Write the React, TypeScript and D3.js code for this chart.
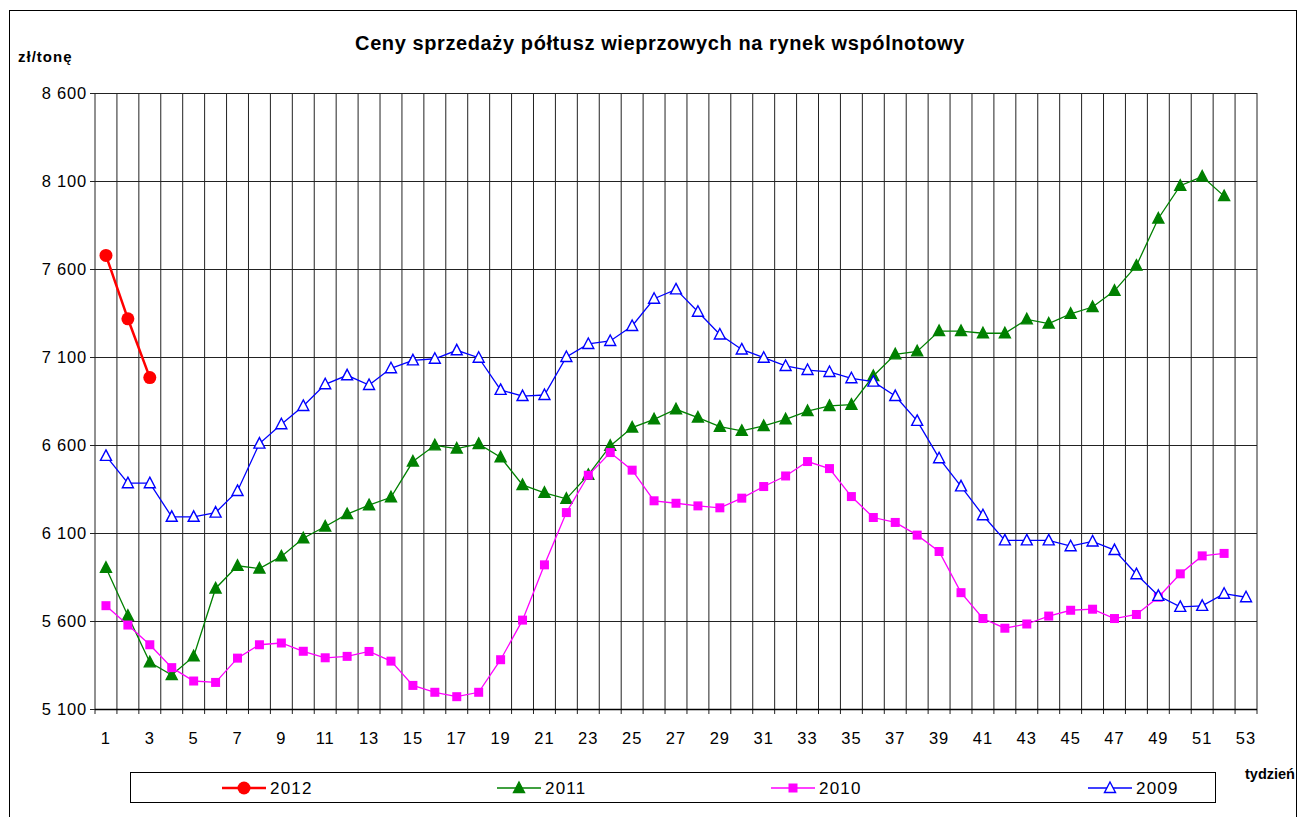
import * as d3 from "d3";

const weeks = [
  1, 2, 3, 4, 5, 6, 7, 8, 9, 10, 11, 12, 13, 14, 15, 16, 17, 18, 19, 20, 21, 22, 23, 24, 25, 26, 27,
  28, 29, 30, 31, 32, 33, 34, 35, 36, 37, 38, 39, 40, 41, 42, 43, 44, 45, 46, 47, 48, 49, 50, 51, 52, 53,
];
const yTicks = [5100, 5600, 6100, 6600, 7100, 7600, 8100, 8600];

const s2012 = [7677, 7317, 6983];
const s2011 = [
  5902, 5630, 5365, 5293, 5399, 5785, 5914, 5898, 5967, 6070, 6137, 6207, 6258, 6303, 6506, 6598, 6580,
  6606, 6530, 6373, 6328, 6294, 6430, 6595, 6699, 6746, 6803, 6756, 6704, 6680, 6708, 6746, 6793, 6822,
  6829, 6992, 7115, 7132, 7247, 7247, 7235, 7235, 7314, 7290, 7345, 7384, 7476, 7619, 7887, 8073, 8125,
  8014,
];
const s2010 = [
  5687, 5577, 5465, 5335, 5259, 5251, 5389, 5465, 5475, 5428, 5391, 5399, 5427, 5372, 5234, 5195, 5170,
  5195, 5380, 5605, 5919, 6216, 6428, 6557, 6457, 6283, 6269, 6254, 6243, 6298, 6364, 6424, 6506, 6466,
  6307, 6188, 6160, 6088, 5995, 5761, 5614, 5559, 5583, 5628, 5661, 5667, 5614, 5637, 5735, 5868, 5970,
  5984,
];
const s2009 = [
  6538, 6383, 6383, 6192, 6192, 6216, 6339, 6608, 6718, 6822, 6945, 6996, 6941, 7036, 7081, 7090, 7138,
  7096, 6913, 6878, 6884, 7100, 7174, 7191, 7276, 7431, 7484, 7357, 7228, 7143, 7096, 7049, 7026, 7015,
  6979, 6960, 6878, 6737, 6525, 6365, 6201, 6058, 6058, 6058, 6025, 6052, 6003, 5866, 5743, 5680, 5686,
  5755, 5735,
];

const series = [
  { name: "2012", values: s2012, color: "#ff0000", width: 2.5, marker: "circle", fill: "#ff0000", legendX: 222 },
  { name: "2011", values: s2011, color: "#008000", width: 1.3, marker: "triangle", fill: "#008000", legendX: 497 },
  { name: "2010", values: s2010, color: "#ff00ff", width: 1.3, marker: "square", fill: "#ff00ff", legendX: 771 },
  { name: "2009", values: s2009, color: "#0000ff", width: 1.3, marker: "triangle", fill: "#ffffff", legendX: 1088 },
];

const font = "'Liberation Sans', Arial, sans-serif";

function Marker({ kind, x, y, color, fill }: { kind: string; x: number; y: number; color: string; fill: string }) {
  if (kind === "circle") return <circle cx={x} cy={y} r={6.5} fill={fill} />;
  if (kind === "square") return <rect x={x - 4.5} y={y - 4.5} width={9} height={9} fill={fill} />;
  // triangle
  const p = `${x},${y - 6} ${x + 5.5},${y + 4.5} ${x - 5.5},${y + 4.5}`;
  return <polygon points={p} fill={fill} stroke={color} strokeWidth={1.4} />;
}

export default function App() {
  const W = 1301;
  const H = 817;
  const left = 95;
  const right = 1257;
  const top = 93;
  const bottom = 709;

  const x = d3.scaleBand<number>().domain(weeks).range([left, right]);
  const y = d3.scaleLinear().domain([5100, 8600]).range([bottom, top]);
  const cx = (w: number) => (x(w) as number) + x.bandwidth() / 2;

  const line = d3
    .line<number>()
    .x((_, i) => cx(weeks[i]))
    .y((v) => y(v));

  const bounds = weeks.map((w) => x(w) as number).concat([right]);

  return (
    <div style={{ position: "absolute", left: 0, top: 0 }}>
      <svg width={W} height={H} style={{ display: "block", fontFamily: font }}>
        <rect x={0} y={0} width={W} height={H} fill="#fff" />
        <rect x={9.5} y={10.5} width={1287} height={830} fill="none" stroke="#000" strokeWidth={1} />

        <text x={660} y={50} textAnchor="middle" fontSize={20} fontWeight="bold" letterSpacing={0.6}>
          Ceny sprzedaży półtusz wieprzowych na rynek wspólnotowy
        </text>
        <text x={18} y={62} fontSize={15} fontWeight="bold" letterSpacing={1}>
          zł/tonę
        </text>

        {/* grid */}
        {bounds.map((b, i) => (
          <line key={"v" + i} x1={b} x2={b} y1={top} y2={bottom + 5} stroke="#222" strokeWidth={1} />
        ))}
        {yTicks.map((t) => (
          <line key={"h" + t} x1={left - 5} x2={right} y1={Math.round(y(t)) + 0.5} y2={Math.round(y(t)) + 0.5} stroke="#222" strokeWidth={1} />
        ))}
        <line x1={left} x2={right} y1={bottom + 0.5} y2={bottom + 0.5} stroke="#000" strokeWidth={1.5} />

        {/* y labels */}
        {yTicks.map((t) => (
          <text key={"yl" + t} x={87} y={y(t) + 6} textAnchor="end" fontSize={16.5} letterSpacing={0.8}>
            {d3.format(",")(t).replace(",", " ")}
          </text>
        ))}
        {/* x labels */}
        {weeks
          .filter((w) => w % 2 === 1)
          .map((w) => (
            <text key={"xl" + w} x={cx(w)} y={744} textAnchor="middle" fontSize={16.5} letterSpacing={1}>
              {w}
            </text>
          ))}

        {/* series */}
        {series.map((s) => (
          <g key={s.name}>
            <path d={line(s.values) || ""} fill="none" stroke={s.color} strokeWidth={s.width} />
            {s.values.map((v, i) => (
              <Marker key={i} kind={s.marker} x={cx(weeks[i])} y={y(v)} color={s.color} fill={s.fill} />
            ))}
          </g>
        ))}

        {/* legend */}
        <rect x={130.5} y={772.5} width={1085} height={30} fill="#fff" stroke="#000" strokeWidth={1} />
        {series.map((s) => (
          <g key={"lg" + s.name}>
            <line x1={s.legendX} x2={s.legendX + 44} y1={788} y2={788} stroke={s.color} strokeWidth={s.width} />
            <Marker kind={s.marker} x={s.legendX + 22} y={788} color={s.color} fill={s.fill} />
            <text x={s.legendX + 48} y={794} fontSize={17} letterSpacing={1.2}>
              {s.name}
            </text>
          </g>
        ))}
        <text x={1245} y={779} fontSize={14.5} fontWeight="bold">
          tydzień
        </text>
      </svg>
    </div>
  );
}
